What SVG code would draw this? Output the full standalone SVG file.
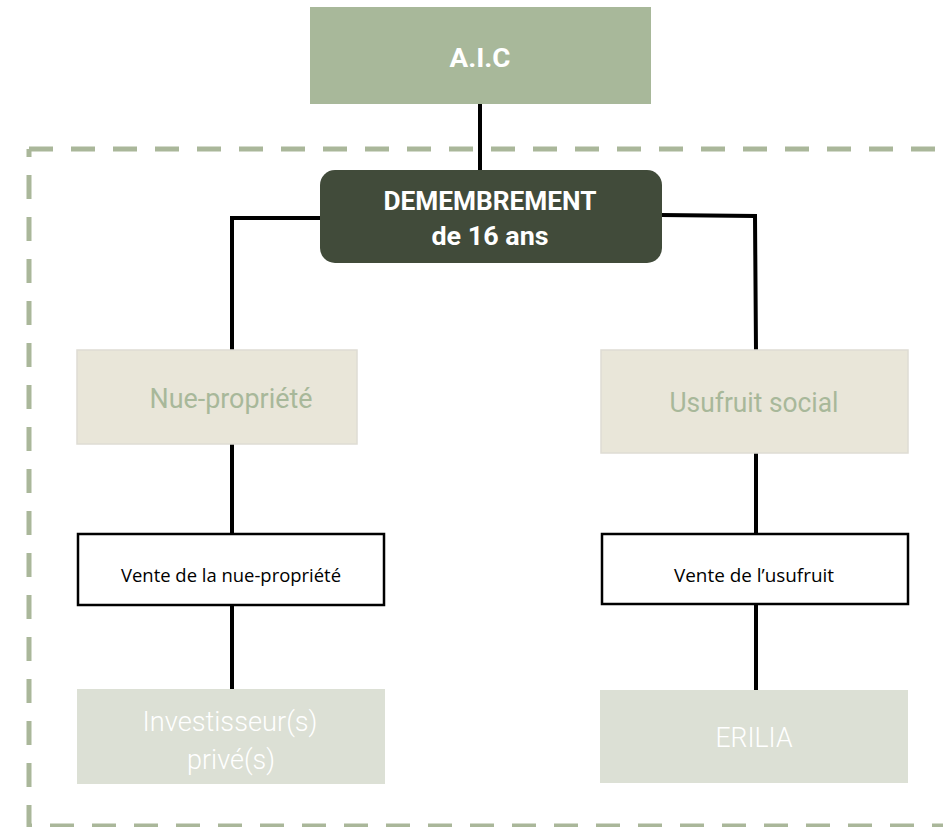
<svg xmlns="http://www.w3.org/2000/svg" width="943" height="827" viewBox="0 0 943 827">
<style>
.dash{fill:none;stroke:#aab79a;stroke-width:5;stroke-dasharray:24 18}
.conn{fill:none;stroke:#000;stroke-width:4;stroke-linejoin:miter}
.title{font-family:Roboto,"Liberation Sans",sans-serif;font-weight:bold;fill:#fff;text-anchor:middle;font-size:26px}
.mid{font-family:Roboto,"Liberation Sans",sans-serif;fill:#a8b89a;text-anchor:middle;font-size:27px;font-weight:400}
.low{font-family:Roboto,"Liberation Sans",sans-serif;fill:#fff;text-anchor:middle;font-size:28px;font-weight:300}
.sale{font-family:"Open Sans","Liberation Sans",sans-serif;fill:#000;text-anchor:middle;font-size:18.5px}
.beige{fill:#e9e6d9;stroke:#dedcd3;stroke-width:1.5}
.pale{fill:#dce0d5}
.white{fill:#fff;stroke:#000;stroke-width:2.5}
</style>
<rect width="943" height="827" fill="#fff"/>
<g id="frame">
<line class="dash" x1="29" y1="149" x2="946" y2="149"/>
<line class="dash" x1="29" y1="149" x2="29" y2="829" stroke-dashoffset="16"/>
<line class="dash" x1="29" y1="826" x2="946" y2="826" stroke-dashoffset="21"/>
</g>
<g id="connectors">
<line class="conn" x1="480" y1="104" x2="480" y2="171"/>
<polyline class="conn" points="321,218 232,218 232,352"/>
<polyline class="conn" points="661,215 755,216 756,351"/>
<line class="conn" x1="232" y1="443" x2="232" y2="535"/>
<line class="conn" x1="756" y1="452" x2="756" y2="535"/>
<line class="conn" x1="232" y1="604" x2="232" y2="690"/>
<line class="conn" x1="756" y1="603" x2="756" y2="691"/>
</g>
<g id="aic">
<rect x="310" y="7" width="341" height="97" fill="#a8b89a"/>
<text class="title" x="480" y="67" textLength="61" lengthAdjust="spacingAndGlyphs">A.I.C</text>
</g>
<g id="demembrement">
<rect x="320" y="170" width="342" height="93" rx="15" fill="#414b3a"/>
<text class="title" x="490" y="210" textLength="213" lengthAdjust="spacingAndGlyphs">DEMEMBREMENT</text>
<text class="title" x="490" y="245" textLength="117" lengthAdjust="spacingAndGlyphs">de 16 ans</text>
</g>
<g id="nue-propriete">
<rect class="beige" x="77" y="350" width="280" height="94"/>
<text class="mid" x="231" y="408" textLength="163" lengthAdjust="spacingAndGlyphs">Nue-propriété</text>
</g>
<g id="usufruit-social">
<rect class="beige" x="601" y="350" width="307" height="103"/>
<text class="mid" x="754" y="412" textLength="169" lengthAdjust="spacingAndGlyphs">Usufruit social</text>
</g>
<g id="vente-nue">
<rect class="white" x="78" y="534" width="306" height="71"/>
<text class="sale" x="231" y="582" textLength="220" lengthAdjust="spacingAndGlyphs">Vente de la nue-propriété</text>
</g>
<g id="vente-usufruit">
<rect class="white" x="602" y="534" width="306" height="70"/>
<text class="sale" x="754" y="582" textLength="160" lengthAdjust="spacingAndGlyphs">Vente de l’usufruit</text>
</g>
<g id="investisseurs">
<rect class="pale" x="77" y="689" width="308" height="95"/>
<text class="low" x="230" y="731" textLength="175" lengthAdjust="spacingAndGlyphs">Investisseur(s)</text>
<text class="low" x="231" y="769" textLength="88" lengthAdjust="spacingAndGlyphs">privé(s)</text>
</g>
<g id="erilia">
<rect class="pale" x="600" y="690" width="308" height="93"/>
<text class="low" x="754" y="747" textLength="77" lengthAdjust="spacingAndGlyphs">ERILIA</text>
</g>
</svg>
